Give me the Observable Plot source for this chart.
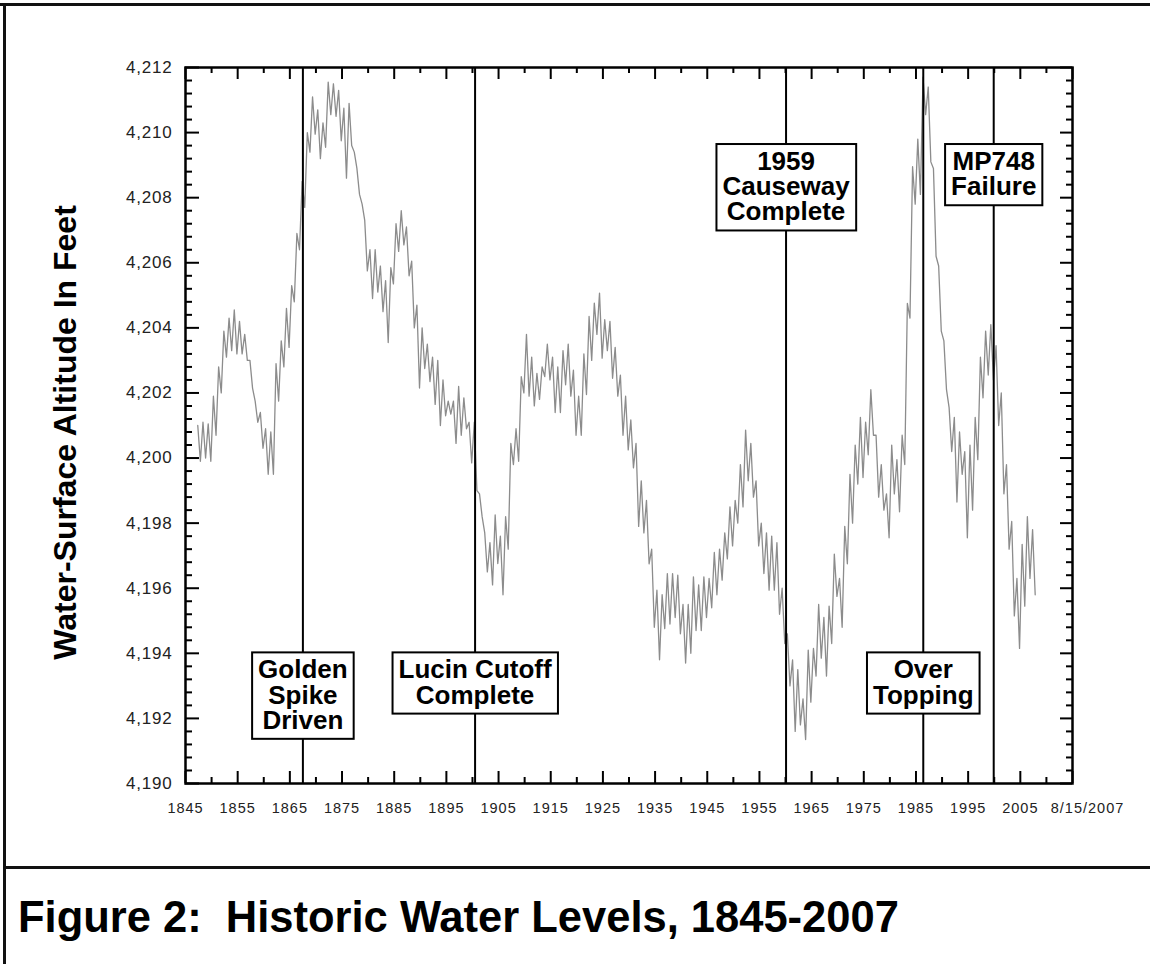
<!DOCTYPE html>
<html>
<head>
<meta charset="utf-8">
<script src="https://cdn.jsdelivr.net/npm/d3@7"></script>
<script src="https://cdn.jsdelivr.net/npm/@observablehq/plot@0.6"></script>
<style>
  html, body { margin: 0; padding: 0; background: #fff; }
  #page { position: relative; width: 1150px; height: 964px; overflow: hidden; background: #fff; }
  .bar { position: absolute; background: #111; }
  #chart { position: absolute; left: 0; top: 0; }
  #caption { position: absolute; left: 18px; top: 896px; font-family: "Liberation Sans", Arial, sans-serif;
             font-weight: bold; font-size: 43.5px; line-height: 43.5px; white-space: pre; color: #000; }
</style>
</head>
<body>
<div id="page">
  <div id="chart"></div>
  <div class="bar" style="left:0;top:3px;width:1150px;height:3px"></div>
  <div class="bar" style="left:3px;top:3px;width:3px;height:961px"></div>
  <div class="bar" style="left:3px;top:866px;width:1147px;height:3px"></div>
  <div id="caption"></div>
</div>
<script>
// ---------- data ----------
const captionText = "Figure 2:  Historic Water Levels, 1845-2007";
const yTitle = "Water-Surface Altitude In Feet";
const xDomain = [1845, 2015];
const yDomain = [4190, 4212];
const xLabelYears = d3.range(1845, 2006, 10);
const endLabel = "8/15/2007";

// years of record; annual high (spring) and low (autumn) water-surface altitude, feet
const years = d3.range(1847, 2008);
const highs = [
  4201.0, 4201.1, 4201.05, 4201.9, 4202.8, 4203.9, 4204.3, 4204.55, 4204.2, 4203.8,   // 1847-1856
  4203.0, 4201.75, 4201.4, 4200.9, 4200.8, 4202.9, 4203.6, 4204.6, 4205.3, 4206.9,    // 1857-1866
  4208.5, 4210.0, 4211.1, 4210.7, 4210.3, 4211.55, 4211.5, 4211.3, 4210.75, 4210.9,   // 1867-1876
  4209.4, 4208.1, 4207.3, 4206.4, 4206.4, 4205.9, 4205.45, 4205.85, 4207.2, 4207.6,   // 1877-1886
  4207.1, 4206.05, 4204.7, 4204.0, 4203.5, 4203.1, 4203.0, 4202.4, 4201.75, 4201.75,  // 1887-1896
  4202.2, 4201.85, 4201.1, 4201.1, 4198.9, 4197.7, 4197.4, 4198.25, 4197.6, 4198.2,   // 1897-1906
  4200.45, 4200.9, 4202.5, 4203.8, 4203.1, 4202.6, 4202.8, 4203.5, 4203.1, 4202.8,    // 1907-1916
  4203.3, 4203.5, 4202.7, 4201.9, 4203.2, 4204.35, 4204.76, 4205.07, 4204.25, 4204.2, // 1917-1926
  4203.4, 4202.55, 4201.9, 4201.17, 4200.45, 4199.3, 4198.7, 4197.2, 4195.94, 4195.8, // 1927-1936
  4196.45, 4196.45, 4196.4, 4195.5, 4195.5, 4196.35, 4196.1, 4196.35, 4196.3, 4197.1, // 1937-1946
  4197.2, 4197.7, 4198.5, 4198.7, 4199.8, 4200.86, 4200.45, 4199.3, 4198.0, 4197.7,   // 1947-1956
  4197.6, 4197.4, 4196.0, 4194.6, 4193.8, 4193.5, 4192.6, 4194.1, 4194.15, 4195.5,    // 1957-1966
  4195.1, 4195.45, 4197.05, 4196.3, 4197.9, 4199.5, 4200.4, 4201.25, 4201.1, 4202.1,  // 1967-1976
  4200.7, 4199.8, 4198.9, 4200.4, 4199.95, 4200.7, 4204.75, 4208.95, 4209.8, 4211.7,  // 1977-1986
  4211.4, 4208.9, 4205.9, 4203.6, 4201.55, 4201.25, 4200.8, 4200.2, 4200.4, 4201.25,  // 1987-1996
  4203.1, 4203.9, 4204.1, 4203.45, 4202.0, 4199.8, 4198.05, 4196.3, 4197.35, 4198.2,  // 1997-2006
  4197.8                                                                              // 2007
];
const lows = [
  4199.9, 4200.0, 4199.9, 4200.7, 4202.0, 4203.1, 4203.3, 4203.2, 4203.2, 4203.0,     // 1847-1856
  4202.15, 4201.1, 4200.3, 4199.5, 4199.5, 4201.75, 4202.8, 4203.4, 4204.8, 4206.4,   // 1857-1866
  4207.7, 4209.4, 4209.95, 4209.2, 4209.55, 4210.55, 4210.5, 4209.75, 4208.6, 4209.6, // 1867-1876
  4208.9, 4207.8, 4205.75, 4204.9, 4205.1, 4204.5, 4203.55, 4205.35, 4206.35, 4206.55,// 1877-1886
  4205.6, 4204.0, 4202.15, 4202.75, 4202.35, 4201.65, 4201.0, 4201.3, 4201.35, 4200.45,// 1887-1896
  4200.7, 4200.9, 4199.85, 4199.0, 4198.2, 4196.5, 4196.1, 4196.76, 4195.8, 4197.2,   // 1897-1906
  4199.8, 4199.9, 4202.0, 4201.9, 4201.6, 4201.8, 4202.5, 4202.4, 4201.4, 4201.4,     // 1907-1916
  4202.25, 4201.9, 4200.7, 4200.7, 4201.95, 4203.0, 4203.8, 4203.07, 4203.3, 4202.45, // 1917-1926
  4201.9, 4200.7, 4200.25, 4199.7, 4197.9, 4197.7, 4196.75, 4194.8, 4193.8, 4194.76,  // 1927-1936
  4194.9, 4195.1, 4194.6, 4193.7, 4194.0, 4194.7, 4194.7, 4195.1, 4195.4, 4195.8,     // 1937-1946
  4196.25, 4196.9, 4197.3, 4198.0, 4198.5, 4199.3, 4198.8, 4197.3, 4196.45, 4195.94,  // 1947-1956
  4195.94, 4195.2, 4194.3, 4193.0, 4191.6, 4191.8, 4191.35, 4192.5, 4193.3, 4193.85,  // 1957-1966
  4193.3, 4194.3, 4195.75, 4194.8, 4196.75, 4198.0, 4199.2, 4199.4, 4200.1, 4200.7,   // 1967-1976
  4198.8, 4198.4, 4197.55, 4198.9, 4198.35, 4199.8, 4204.3, 4207.8, 4208.1, 4210.55,  // 1977-1986
  4209.1, 4206.2, 4203.9, 4202.1, 4200.2, 4198.65, 4199.5, 4197.55, 4198.4, 4199.95,  // 1987-1996
  4201.85, 4202.55, 4202.4, 4201.0, 4198.9, 4197.2, 4195.15, 4194.15, 4195.45, 4196.3,// 1997-2006
  4195.8                                                                              // 2007
];

// events marked on the chart
const eventYears  = [1867.5, 1900.5, 1960.1, 1986.4, 1999.9];
const eventLabels = ["Golden\nSpike\nDriven", "Lucin Cutoff\nComplete", "1959\nCauseway\nComplete", "Over\nTopping", "MP748\nFailure"];
const eventLabelLevels = [4193.78, 4193.78, 4209.4, 4193.78, 4209.4];

// ---------- build ----------
const trace = [];
years.forEach((yr, i) => {
  trace.push({t: yr + 0.35, v: highs[i]});
  trace.push({t: yr + 0.85, v: lows[i]});
});
const events = eventYears.map((yr, i) => ({year: yr, label: eventLabels[i], level: eventLabelLevels[i]}));

const W = 1150, H = 866;
const mL = 185, mR = 78, mT = 67, mB = 83;
const innerW = W - mL - mR, innerH = H - mT - mB;

const xMajor = d3.range(xDomain[0], xDomain[1] + 1, 10);
const xMinor = d3.range(xDomain[0] + 5, xDomain[1], 10);
const yMajor = d3.range(yDomain[0], yDomain[1] + 1, 2);
const yMinor = d3.range(1, 55).filter(i => i % 5 !== 0).map(i => yDomain[0] + i * 0.4);

const font = '"Liberation Sans", Arial, Helvetica, sans-serif';

const svg = Plot.plot({
  width: W, height: H,
  marginLeft: mL, marginRight: mR, marginTop: mT, marginBottom: mB,
  style: {fontFamily: font, background: "transparent", color: "#222"},
  x: {domain: xDomain},
  y: {domain: yDomain},
  marks: [
    Plot.line(trace, {x: "t", y: "v", stroke: "#8c8c8c", strokeWidth: 1.3}),
    Plot.ruleX(events, {x: "year", stroke: "#000", strokeWidth: 2}),
    // inward ticks on four sides
    Plot.tickX(xMajor, {x: d => d, insetTop: innerH - 12, stroke: "#000", strokeWidth: 2}),
    Plot.tickX(xMinor, {x: d => d, insetTop: innerH - 6, stroke: "#000", strokeWidth: 2}),
    Plot.tickX(xMajor, {x: d => d, insetBottom: innerH - 12, stroke: "#000", strokeWidth: 2}),
    Plot.tickX(xMinor, {x: d => d, insetBottom: innerH - 6, stroke: "#000", strokeWidth: 2}),
    Plot.tickY(yMajor, {y: d => d, insetRight: innerW - 14, stroke: "#000", strokeWidth: 2}),
    Plot.tickY(yMinor, {y: d => d, insetRight: innerW - 7, stroke: "#000", strokeWidth: 2}),
    Plot.tickY(yMajor, {y: d => d, insetLeft: innerW - 12, stroke: "#000", strokeWidth: 2}),
    Plot.tickY(yMinor, {y: d => d, insetLeft: innerW - 6, stroke: "#000", strokeWidth: 2}),
    Plot.frame({stroke: "#000", strokeWidth: 2.5}),
    Plot.axisX({ticks: xLabelYears, tickSize: 0, tickPadding: 19, fontSize: 14.5, tickFormat: d => String(d), label: null}),
    Plot.text([endLabel], {x: () => xDomain[1], text: d => d, frameAnchor: "bottom", lineAnchor: "top", dy: 19, dx: 15, fontSize: 14.5, fill: "#222"}),
    Plot.axisY({ticks: yMajor, tickSize: 0, tickPadding: 13, fontSize: 17, tickFormat: d3.format(","), label: null}),
    Plot.text([yTitle], {text: d => d, frameAnchor: "left", dx: -120, dy: 7, rotate: -90, textAnchor: "middle", lineAnchor: "middle", fontSize: 32, fontWeight: "bold", fill: "#000"}),
    Plot.text(events, {x: "year", y: "level", text: "label", lineAnchor: "top", lineHeight: 0.97, fontSize: 26, fontWeight: "bold", fill: "#000"})
  ]
});
document.getElementById("chart").append(svg);
document.getElementById("caption").textContent = captionText;

// slightly spaced tick labels, as in the reference
svg.querySelectorAll('g[aria-label="x-axis tick label"], g[aria-label="y-axis tick label"]').forEach(g => {
  g.style.letterSpacing = g.getAttribute("aria-label").startsWith("x") ? "1px" : "0.8px";
});
svg.querySelectorAll('g[aria-label="text"]').forEach(g => {
  if (g.textContent.includes(endLabel)) g.style.letterSpacing = "1px";
});

// boxes behind the event labels, sized from the rendered text
svg.querySelectorAll('g[aria-label="text"]').forEach(g => {
  if (!g.textContent.includes("Golden")) return;
  g.querySelectorAll("text").forEach(t => {
    const b = t.getBBox();
    const padX = 6, padTop = 2, padBottom = 4;
    const r = document.createElementNS("http://www.w3.org/2000/svg", "rect");
    r.setAttribute("x", b.x - padX);
    r.setAttribute("y", b.y - padTop);
    r.setAttribute("width", b.width + 2 * padX);
    r.setAttribute("height", b.height + padTop + padBottom);
    r.setAttribute("fill", "#fff");
    r.setAttribute("stroke", "#000");
    r.setAttribute("stroke-width", 2);
    const tr = t.getAttribute("transform");
    if (tr) r.setAttribute("transform", tr);
    g.insertBefore(r, t);
  });
});
</script>
</body>
</html>
